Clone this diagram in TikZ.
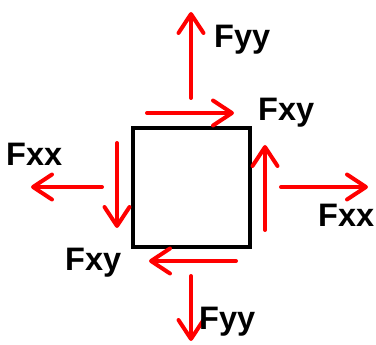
\documentclass[tikz,border=0pt]{standalone}
\usepackage{fontspec}
\setmainfont{Liberation Sans}
\usetikzlibrary{arrows.meta}
\begin{document}
\begin{tikzpicture}[x=1pt,y=-1pt,
  force/.style={red,line width=4pt,line cap=round,
    -{Straight Barb[length=19pt,width=25pt,line width=4pt,round]}},
  lbl/.style={inner sep=0pt,anchor=base west,font=\fontsize{32.5}{32.5}\selectfont\bfseries}]
\useasboundingbox (0,0) rectangle (376,345);
\draw[line width=4pt] (133,128) rectangle (250,247);
% coordinates
\coordinate (ta) at (191,98);  \coordinate (tb) at (191,12);
\coordinate (ha) at (147,113); \coordinate (hb) at (234,113);
\coordinate (ra) at (265,230); \coordinate (rb) at (265,145);
\coordinate (la) at (117,143); \coordinate (lb) at (117,228);
\coordinate (lha) at (102,187); \coordinate (lhb) at (31,187);
\coordinate (rha) at (281,187); \coordinate (rhb) at (368,187);
\coordinate (ba) at (236,261); \coordinate (bb) at (149,261);
\coordinate (va) at (191,276); \coordinate (vb) at (191,341);
\draw[force] (ta) -- (tb);
\draw[force] (ha) -- (hb);
\draw[force] (ra) -- (rb);
\draw[force] (la) -- (lb);
\draw[force] (lha) -- (lhb);
\draw[force] (rha) -- (rhb);
\draw[force] (ba) -- (bb);
\draw[force] (va) -- (vb);
\node[lbl] (fyyt) at (214,48) {Fyy};
\node[lbl] (fxyt) at (258,121) {Fxy};
\node[lbl] (fxxl) at (6,166) {Fxx};
\node[lbl] (fxxr) at (318,227) {Fxx};
\node[lbl] (fxyb) at (65,271) {Fxy};
\node[lbl] (fyyb) at (199,330) {Fyy};
\end{tikzpicture}
\end{document}
